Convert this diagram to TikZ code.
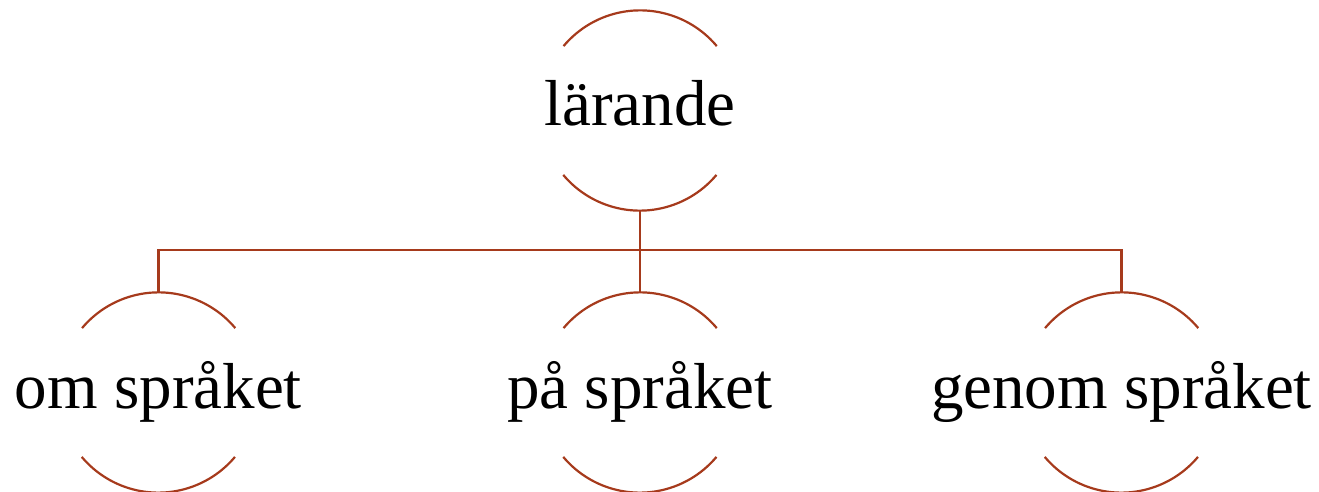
\documentclass[tikz,border=0pt]{standalone}
\usepackage{fontspec}
\setmainfont{Liberation Serif}
\definecolor{rust}{RGB}{166,58,28}
\begin{document}
\begin{tikzpicture}[x=1pt,y=-1pt,
  ring/.style={circle,minimum size=200pt,inner sep=0pt},
  lbl/.style={anchor=base,inner sep=0pt,font=\fontsize{65}{72}\selectfont},
  wire/.style={draw=rust,line width=2.2pt}]
\useasboundingbox (0,0) rectangle (1319,492);
\node[ring] (top) at (640,110.5) {};
\node[ring] (om) at (158.5,392.5) {};
\node[ring] (pa) at (640,392.5) {};
\node[ring] (genom) at (1121.5,392.5) {};
\foreach \n in {top,om,pa,genom}{
  \draw[wire] (\n.40) arc (40:140:100pt);
  \draw[wire] (\n.220) arc (220:320:100pt);
}
\node[lbl] (topT) at (640,126) {lärande};
\node[lbl] (omT) at (158.5,408) {om språket};
\node[lbl] (paT) at (640,408) {på språket};
\node[lbl] (genomT) at (1121.5,408) {genom språket};
\coordinate (bus) at (640,250);
\draw[wire] (top.south) -- (bus);
\draw[wire] (om.north) |- (bus) -| (genom.north);
\draw[wire] (pa.north) -- (bus);
\end{tikzpicture}
\end{document}
